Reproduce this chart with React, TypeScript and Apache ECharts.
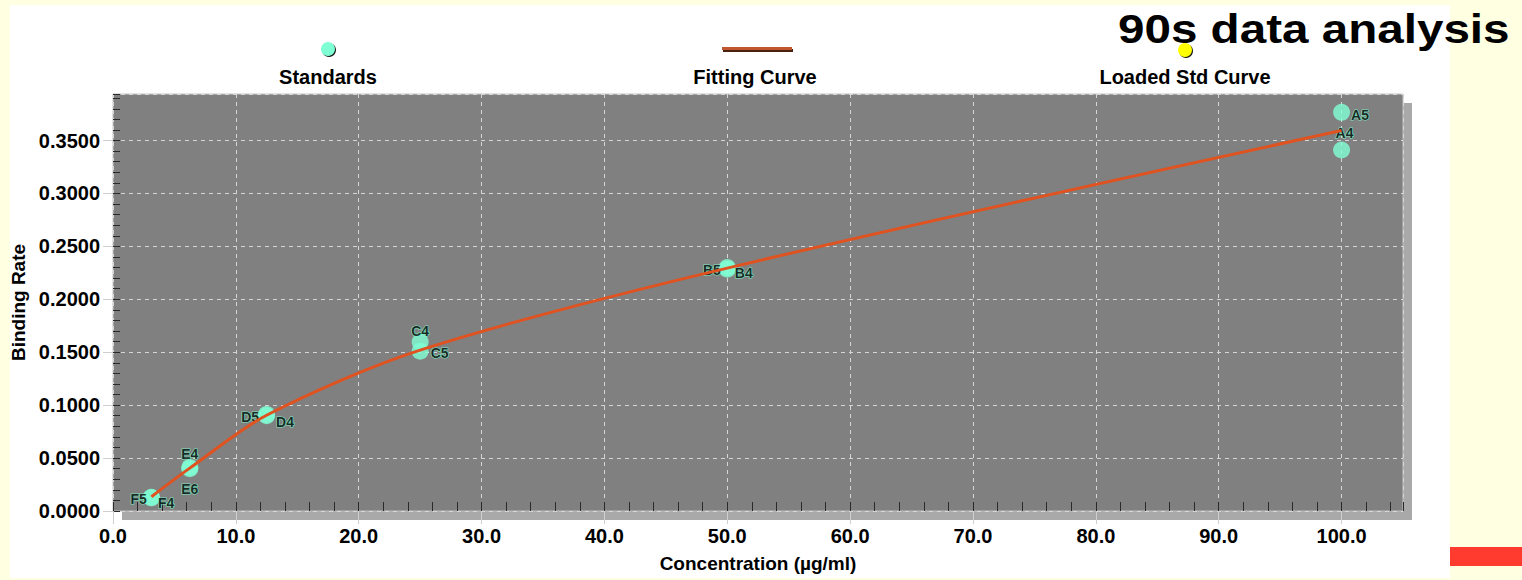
import React, { useEffect, useRef } from "react";
import * as echarts from "echarts";

// ---- data ----
const standardNames = ["F5", "F4", "E4", "E6", "D5", "D4", "C4", "C5", "B5", "B4", "A5", "A4"];
const standardConc = [3.125, 3.125, 6.25, 6.25, 12.5, 12.5, 25, 25, 50, 50, 100, 100];
const standardRate = [0.013, 0.0125, 0.0412, 0.04, 0.0912, 0.09, 0.1597, 0.151, 0.23, 0.2285, 0.3767, 0.3411];

const curveConc = [3.125, 6.25, 12.5, 25, 50, 100];
const curveRate = [0.0135, 0.0405, 0.0905, 0.152, 0.2295, 0.3595];

const legendNames = ["Standards", "Fitting Curve", "Loaded Std Curve"];
const titleText = "90s data analysis";
const xAxisName = "Concentration (µg/ml)";
const yAxisName = "Binding Rate";

const xMin = 0;
const xMax = 105;
const xStep = 10;
const xMinorStep = 2;
const yMin = 0;
const yMax = 0.394;
const yStep = 0.05;
const yMinorStep = 0.01;

// ---- layout / style (not data) ----
const FONT = "'Liberation Sans', Arial, Helvetica, sans-serif";
const labelPos = ["left", "right", "top", "bottom", "left", "right", "top", "right", "left", "right", "right", "top"];
const labelOff: number[][] = [
  [9, 2], [-7, 5], [0, 7], [0, 0], [6, 3], [-4, 6],
  [0, 10], [-3, 2], [7, 2], [-6, 4], [-4, 3], [3, 4],
];

export default function App() {
  const ref = useRef<HTMLDivElement>(null);

  useEffect(() => {
    if (!ref.current) return;
    const chart = echarts.init(ref.current, undefined, { renderer: "svg" });

    const axisLabelStyle = {
      fontFamily: FONT,
      fontWeight: "bold" as const,
      fontSize: 20,
      color: "#000",
    };

    const option: any = {
      animation: false,
      backgroundColor: "#FFFFE1",
      grid: {
        left: 113,
        top: 94,
        right: 119,
        bottom: 69,
        show: true,
        backgroundColor: "#808080",
        borderColor: "#c4c4c4",
        borderWidth: 1,
      },
      xAxis: [
        {
          type: "value",
          min: xMin,
          max: xMax,
          interval: xStep,
          position: "bottom",
          name: xAxisName,
          nameLocation: "middle",
          nameGap: 43,
          nameTextStyle: { fontFamily: FONT, fontWeight: "bold", fontSize: 19, color: "#000" },
          axisLine: { show: false },
          axisTick: { show: true, inside: false, length: 13, lineStyle: { color: "#cfcfcf", width: 1 } },
          axisLabel: {
            ...axisLabelStyle,
            margin: 15,
            showMaxLabel: false,
            formatter: (v: number) => v.toFixed(1),
          },
          splitLine: { show: true, lineStyle: { color: "#d6d6d6", width: 1, type: [4, 4] } },
        },
        {
          type: "value",
          min: xMin,
          max: xMax,
          interval: xMinorStep,
          position: "bottom",
          axisLine: { show: false },
          axisTick: { show: true, inside: true, length: 9, lineStyle: { color: "#2a2a2a", width: 1 } },
          axisLabel: { show: false },
          splitLine: { show: false },
        },
      ],
      yAxis: [
        {
          type: "value",
          min: yMin,
          max: yMax,
          interval: yStep,
          position: "left",
          name: yAxisName,
          nameLocation: "middle",
          nameGap: 82,
          nameTextStyle: { fontFamily: FONT, fontWeight: "bold", fontSize: 19, color: "#000" },
          axisLine: { show: false },
          axisTick: { show: true, inside: false, length: 10, lineStyle: { color: "#cfcfcf", width: 1 } },
          axisLabel: {
            ...axisLabelStyle,
            margin: 13,
            showMaxLabel: false,
            formatter: (v: number) => v.toFixed(4),
          },
          splitLine: { show: true, lineStyle: { color: "#d6d6d6", width: 1, type: [4, 4] } },
        },
        {
          type: "value",
          min: yMin,
          max: yMax,
          interval: yMinorStep,
          position: "left",
          axisLine: { show: false },
          axisTick: { show: true, inside: true, length: 7, lineStyle: { color: "#2a2a2a", width: 1 } },
          axisLabel: { show: false },
          splitLine: { show: false },
        },
      ],
      graphic: {
        elements: [
          { type: "rect", z: -2, silent: true, shape: { x: 10, y: 5, width: 1440, height: 573 }, style: { fill: "#ffffff" } },
          { type: "rect", z: -2, silent: true, shape: { x: 1450, y: 547, width: 72, height: 19 }, style: { fill: "#FF3B30" } },
          { type: "rect", z: -1, silent: true, shape: { x: 122, y: 103, width: 1290, height: 417 }, style: { fill: "#a9a9a9" } },
          // title
          {
            type: "text",
            z: 20,
            x: 1118,
            y: 29,
            scaleX: 1.19,
            style: { text: titleText, font: `bold 40px ${FONT}`, fill: "#000", textAlign: "left", textVerticalAlign: "middle" },
          },
          // legend: Standards
          { type: "circle", z: 10, shape: { cx: 329, cy: 50, r: 7 }, style: { fill: "#1a1a1a" } },
          { type: "circle", z: 11, shape: { cx: 328, cy: 49, r: 7 }, style: { fill: "#7FFFD4" } },
          {
            type: "text", z: 11, x: 328, y: 77,
            style: { text: legendNames[0], font: `bold 20px ${FONT}`, fill: "#000", textAlign: "center", textVerticalAlign: "middle" },
          },
          // legend: Fitting Curve
          { type: "line", z: 10, shape: { x1: 723, y1: 50.5, x2: 793, y2: 50.5 }, style: { stroke: "#4a200f", lineWidth: 3 } },
          { type: "line", z: 11, shape: { x1: 722, y1: 48.5, x2: 792, y2: 48.5 }, style: { stroke: "#C0562F", lineWidth: 3 } },
          {
            type: "text", z: 11, x: 755, y: 77,
            style: { text: legendNames[1], font: `bold 20px ${FONT}`, fill: "#000", textAlign: "center", textVerticalAlign: "middle" },
          },
          // legend: Loaded Std Curve
          { type: "circle", z: 10, shape: { cx: 1186, cy: 51, r: 7 }, style: { fill: "#1a1a1a" } },
          { type: "circle", z: 11, shape: { cx: 1185, cy: 50, r: 7 }, style: { fill: "#FFFF00" } },
          {
            type: "text", z: 11, x: 1185, y: 77,
            style: { text: legendNames[2], font: `bold 20px ${FONT}`, fill: "#000", textAlign: "center", textVerticalAlign: "middle" },
          },
        ],
      },
      series: [
        {
          type: "scatter",
          name: legendNames[0],
          xAxisIndex: 0,
          yAxisIndex: 0,
          symbol: "circle",
          symbolSize: 17,
          itemStyle: { color: "#7FFFD4" },
          label: {
            show: true,
            formatter: "{b}",
            fontFamily: FONT,
            fontWeight: "bold",
            fontSize: 14,
            color: "#000",
            textBorderColor: "#7FFFD4",
            textBorderWidth: 1.2,
          },
          data: standardNames.map((n, i) => ({
            name: n,
            value: [standardConc[i], standardRate[i]],
            label: { position: labelPos[i], offset: labelOff[i] },
          })),
          z: 3,
        },
        {
          type: "line",
          name: legendNames[1],
          xAxisIndex: 0,
          yAxisIndex: 0,
          smooth: 0.3,
          symbol: "none",
          showSymbol: false,
          lineStyle: { color: "#E0521F", width: 3 },
          data: curveConc.map((c, i) => [c, curveRate[i]]),
          z: 4,
        },
        {
          type: "line",
          name: legendNames[2],
          xAxisIndex: 0,
          yAxisIndex: 0,
          symbol: "none",
          lineStyle: { color: "#FFFF00", width: 2 },
          data: [],
        },
      ],
    };

    chart.setOption(option);
    return () => chart.dispose();
  }, []);

  return (
    <div
      ref={ref}
      style={{ position: "absolute", left: 0, top: 0, width: 1522, height: 580 }}
    />
  );
}
